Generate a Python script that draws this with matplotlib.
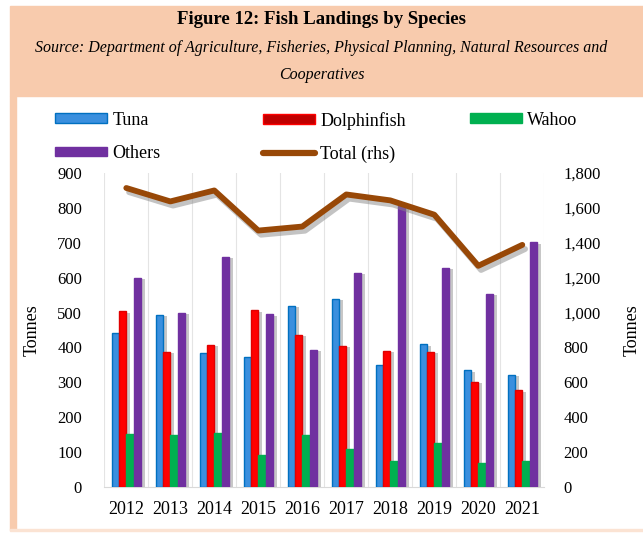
import matplotlib
matplotlib.use("Agg")
import matplotlib.pyplot as plt
import matplotlib.patheffects as pe
from matplotlib.patches import Rectangle, Patch
from matplotlib.lines import Line2D
from matplotlib.ticker import FuncFormatter
import numpy as np

years = ["2012", "2013", "2014", "2015", "2016", "2017", "2018", "2019", "2020", "2021"]
tuna = [442, 493, 385, 373, 519, 539, 350, 409, 335, 321]
dolphinfish = [504, 387, 407, 506, 436, 404, 390, 388, 302, 277]
wahoo = [152, 149, 156, 91, 148, 110, 75, 126, 70, 75]
others = [600, 499, 660, 495, 393, 614, 805, 628, 553, 701]
total = [1714, 1637, 1700, 1470, 1493, 1677, 1643, 1561, 1268, 1388]

plt.rcParams['font.family'] = ['Liberation Serif', 'DejaVu Serif']

W, H = 643, 538
fig = plt.figure(figsize=(W / 100, H / 100), dpi=100)
fig.patch.set_facecolor('white')

peach = '#F8CBAD'
# header band and side strip
fig.patches.append(Rectangle((10 / W, 1 - 96 / H), 1 - 10 / W, 90 / H,
                             transform=fig.transFigure, color=peach, zorder=0))
fig.patches.append(Rectangle((10 / W, 1 - 530 / H), 6 / W, 434 / H,
                             transform=fig.transFigure, color=peach, zorder=0))
fig.patches.append(Rectangle((10 / W, 1 - 531 / H), 1 - 10 / W, 2 / H,
                             transform=fig.transFigure, color='#FBE3D3', zorder=0))

fig.text(0.5, 1 - 19 / H, "Figure 12: Fish Landings by Species", ha='center', va='center',
         fontsize=13.5, fontweight='bold')
fig.text(0.5, 1 - 48 / H, "Source: Department of Agriculture, Fisheries, Physical Planning, Natural Resources and",
         ha='center', va='center', fontsize=11.5, style='italic')
fig.text(0.5, 1 - 75 / H, "Cooperatives", ha='center', va='center', fontsize=11.5, style='italic')

ax = fig.add_axes([104.3 / W, 51 / H, 440 / W, 314 / H])
ax2 = ax.twinx()

x = np.arange(len(years))
bw = 0.165
shadow = [pe.SimplePatchShadow(offset=(3, -1), shadow_rgbFace='#9a9a9a', alpha=0.55), pe.Normal()]
series = [
    (tuna, '#3A8FDE', '#0070C0'),
    (dolphinfish, '#FF0000', '#E00000'),
    (wahoo, '#00B050', '#00B050'),
    (others, '#7030A0', '#7030A0'),
]
for i, (vals, fc, ec) in enumerate(series):
    bars = ax.bar(x + (i - 1.5) * bw, vals, width=bw, color=fc, edgecolor=ec, linewidth=1, zorder=3)
    for b in bars:
        b.set_path_effects(shadow)

ax.set_xlim(-0.5, 9.5)
ax.set_ylim(0, 900)
ax.set_yticks(range(0, 901, 100))
ax.set_xticks(x)
ax.set_xticklabels(years, fontsize=13)
ax.set_xticks(np.arange(-0.5, 10, 1), minor=True)
ax.grid(axis='x', which='minor', color='#E4E4E4', linewidth=0.8, zorder=0)
ax.tick_params(axis='x', which='both', length=0, pad=10)
ax.tick_params(axis='y', length=0, labelsize=12, pad=16)
for s in ['top', 'left', 'right']:
    ax.spines[s].set_visible(False)
ax.spines['bottom'].set_color('#D9D9D9')
ax.set_ylabel("Tonnes", fontsize=13, labelpad=12)

ax2.plot(x, total, color='#984807', linewidth=4.2, solid_capstyle='round', solid_joinstyle='round',
         zorder=5, path_effects=[pe.SimpleLineShadow(offset=(2, -3), shadow_color='#888888', alpha=0.5),
                                 pe.Normal()])
ax2.set_ylim(0, 1800)
ax2.set_yticks(range(0, 1801, 200))
ax2.yaxis.set_major_formatter(FuncFormatter(lambda v, p: f"{int(v):,}"))
ax2.tick_params(axis='y', length=0, labelsize=12, pad=14)
for s in ['top', 'left', 'right', 'bottom']:
    ax2.spines[s].set_visible(False)
ax2.set_ylabel("Tonnes", fontsize=13, labelpad=16, rotation=90)

# legend, laid out in three columns like the original
h_tuna = Patch(facecolor='#3A8FDE', edgecolor='#0070C0', linewidth=1)
h_dol = Patch(facecolor='#C00000', edgecolor='#FF0000', linewidth=1)
h_wah = Patch(facecolor='#00B050', edgecolor='#00B050')
h_oth = Patch(facecolor='#7030A0', edgecolor='#7030A0')
h_tot = Line2D([], [], color='#984807', linewidth=4.5, solid_capstyle='round')
cols = [([h_tuna, h_oth], ["Tuna", "Others"], 50),
        ([h_dol, h_tot], ["Dolphinfish", "Total (rhs)"], 258),
        ([h_wah], ["Wahoo"], 465)]
for hs, labs, xp in cols:
    fig.legend(hs, labs, loc='upper left', bbox_to_anchor=((xp - 8) / W, 1 - 99 / H),
               frameon=False, fontsize=13, handlelength=2.9, handleheight=0.45,
               handletextpad=0.3, labelspacing=0.9, borderpad=0.2)

fig.savefig("out.png", dpi=100)
